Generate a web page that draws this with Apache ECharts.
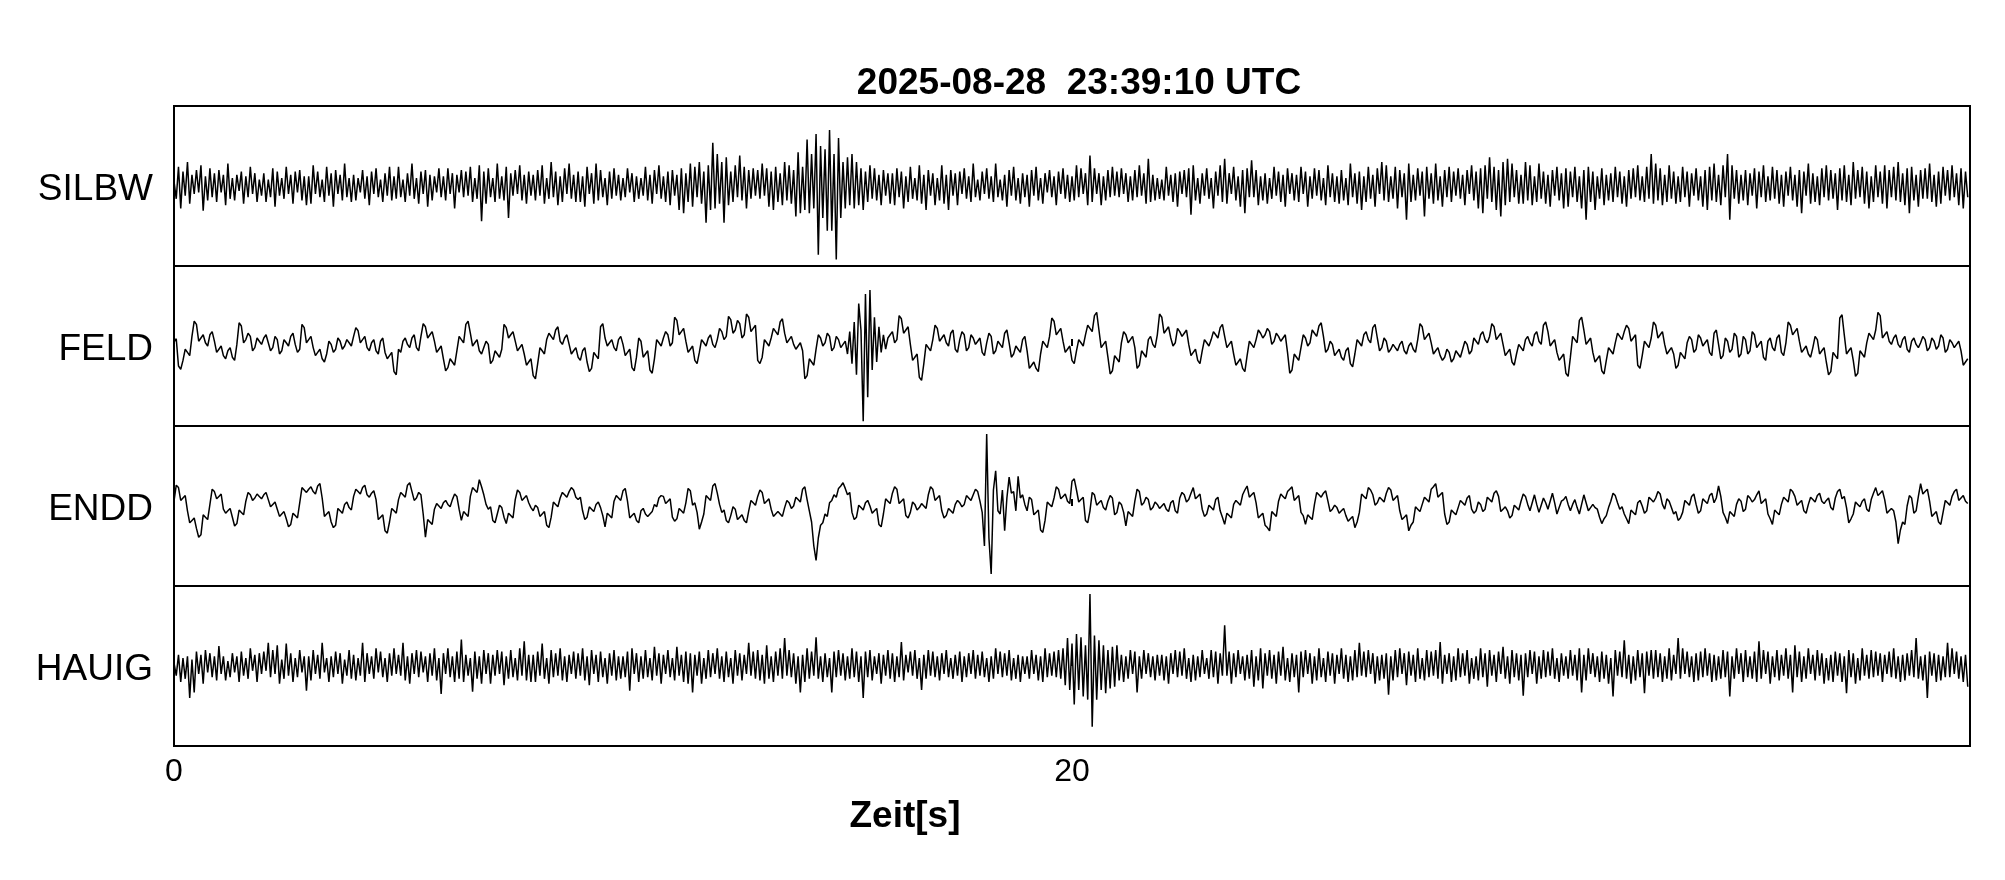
<!DOCTYPE html>
<html>
<head>
<meta charset="utf-8">
<script src="https://cdn.jsdelivr.net/npm/echarts@6/dist/echarts.min.js"></script>
<style>
html,body{margin:0;padding:0;background:#fff;}
#chart{width:2005px;height:880px;}
</style>
</head>
<body>
<div id="chart"></div>
<script>
// ---- data ----
const titleText = '2025-08-28  23:39:10 UTC';
const xAxisName = 'Zeit[s]';
const stations = ['SILBW', 'FELD', 'ENDD', 'HAUIG'];
const sampleInterval = 0.05; // seconds between samples
const timeMin = 0, timeMax = 40, timeTickStep = 20;

// amplitudes in % of half panel height, one row = 1 s
const silbw = [
6,-16,24,-28,18,-12,30,-22,14,-10,20,-8,26,-31,12,-18,22,-14,16,-20,
20,-8,14,-24,28,-16,10,-18,14,-6,18,-22,12,-14,24,-10,16,-20,8,-12,
16,-20,8,-14,22,-26,18,-12,10,-16,24,-10,14,-22,18,-8,20,-18,12,-24,
12,-22,26,-10,18,-14,8,-20,24,-12,16,-26,20,-10,14,-18,28,-14,10,-20,
14,-18,10,-8,20,-16,12,-24,18,-10,22,-14,8,-20,16,-12,24,-18,12,-16,
24,-14,8,-20,16,-12,28,-16,10,-22,18,-10,20,-26,14,-18,12,-8,22,-14,
12,-18,22,-10,16,-28,14,-8,20,-14,18,-12,24,-20,10,-16,26,-44,18,-22,
22,-14,10,-20,28,-16,12,-18,24,-40,16,-12,20,-10,26,-18,14,-22,18,-12,
14,-18,20,-12,26,-22,10,-16,30,-14,18,-24,12,-20,22,-10,28,-16,14,-20,
18,-20,12,-26,24,-10,16,-22,28,-18,20,-14,10,-24,18,-16,22,-12,14,-18,
10,-14,22,-8,16,-20,12,-16,10,-12,24,-18,14,-22,20,-10,26,-16,12,-20,
18,-24,20,-12,14,-30,22,-34,16,-20,28,-26,24,-14,30,-22,18,-46,26,-30,
54,-28,40,-22,30,-46,36,-24,18,-20,26,-14,38,-18,24,-28,20,-16,22,-12,
20,-16,28,-12,22,-26,18,-30,24,-20,16,-24,30,-18,26,-22,20,-38,42,-34,
24,-30,58,-34,40,-28,65,-86,50,-40,46,-56,70,-56,40,-92,60,-40,30,-28,
36,-24,40,-28,30,-24,22,-30,18,-20,26,-16,22,-18,14,-24,20,-12,16,-22,
16,-24,22,-14,18,-28,12,-20,24,-16,10,-18,26,-22,14,-30,20,-12,16,-24,
10,-18,26,-22,14,-30,20,-12,16,-24,18,-10,22,-16,12,-20,28,-14,8,-18,
18,-10,22,-16,12,-20,28,-14,8,-18,14,-26,20,-12,24,-18,10,-22,16,-14,
14,-26,20,-12,24,-18,10,-22,16,-8,20,-14,12,-24,18,-10,22,-16,14,-20,
12,-18,26,-14,22,-10,16,-24,38,-20,22,-10,16,-24,12,-18,20,-14,24,-12,
18,-14,22,-10,16,-20,12,-18,20,-14,26,-12,16,-22,34,-20,14,-18,10,-16,
8,-18,24,-12,14,-20,16,-26,18,-10,20,-14,22,-36,26,-18,10,-22,16,-12,
22,-16,10,-28,18,-12,26,-20,34,-22,16,-10,24,-18,12,-26,20,-34,22,-14,
32,-14,20,-24,12,-18,16,-22,10,-16,24,-12,18,-20,14,-26,22,-10,16,-18,
14,-20,24,-10,18,-26,12,-16,22,-12,20,-18,10,-24,26,-14,16,-20,12,-22,
20,-18,10,-24,28,-14,16,-22,18,-30,12,-20,24,-16,14,-26,22,-10,30,-18,
26,-20,12,-16,24,-28,20,-14,16,-42,28,-20,14,-18,22,-12,18,-38,24,-16,
16,-22,28,-18,12,-26,20,-14,24,-20,18,-12,22,-16,14,-24,20,-10,26,-18,
18,-28,22,-34,26,-16,36,-20,24,-30,20,-38,30,-24,34,-20,28,-14,20,-22,
14,-22,30,-18,26,-24,12,-20,28,-16,18,-22,14,-26,20,-12,24,-18,16,-28,
22,-26,18,-14,24,-20,12,-28,20,-42,24,-20,18,-30,12,-16,22,-24,14,-18,
16,-20,24,-14,18,-22,12,-26,20,-16,22,-14,26,-18,12,-20,24,-16,40,-22,
28,-18,22,-24,14,-20,26,-16,18,-22,12,-20,24,-14,18,-26,16,-12,22,-18,
12,-26,20,-30,24,-18,28,-20,14,-24,26,-14,40,-42,26,-16,20,-22,14,-18,
20,-24,16,-12,22,-28,18,-14,26,-20,12,-18,24,-16,20,-22,14,-26,18,-12,
24,-18,14,-26,20,-34,18,-12,28,-22,16,-20,12,-24,22,-14,26,-18,20,-16,
16,-30,22,-18,26,-20,14,-24,30,-16,20,-14,24,-22,18,-28,12,-20,26,-14,
18,-22,26,-28,20,-14,24,-18,30,-20,16,-24,22,-34,24,-18,14,-26,20,-16,
22,-16,28,-20,14,-26,18,-22,24,-12,20,-18,26,-14,16,-24,22,-28,18,-14
];

const feld = [
5,9,-25,-29,-18,-4,-8,-12,12,31,27,6,10,14,4,0,14,18,6,-8,
-4,0,-12,-16,-6,-2,-14,-18,2,29,25,4,8,16,12,-6,-2,10,6,2,
10,14,4,-6,-2,12,8,-10,-6,8,4,0,12,16,2,-8,-4,27,23,4,
8,12,-2,-12,-8,-4,-16,-20,-10,6,2,-8,-4,10,6,-4,0,8,4,0,
12,23,19,4,8,12,-2,-6,4,8,-6,-10,6,10,-8,-16,-12,-8,-32,-36,
-4,-8,6,10,2,-2,10,14,-2,-6,12,28,24,10,14,18,6,-8,-4,0,
-16,-31,-27,-16,-20,-24,-6,12,8,4,27,31,16,0,4,8,-6,-10,-2,6,
2,-22,-18,-6,-10,-14,-4,27,23,10,14,18,6,-6,-2,2,-10,-24,-20,-16,
-37,-41,-22,-2,-6,-10,8,16,12,8,20,24,6,2,10,14,2,-10,-6,-2,
-14,-18,-6,-2,-20,-32,-28,-8,-12,-16,24,28,10,0,4,8,-2,-6,8,12,
2,-12,-8,-4,-27,-31,-14,10,6,-14,-10,-6,-30,-34,-16,8,4,0,10,18,
14,0,4,36,32,14,18,22,6,-8,-4,0,-18,-22,-8,8,4,0,10,14,
2,-2,8,22,18,8,12,37,33,16,20,32,28,10,14,40,36,18,22,26,
-18,-22,-14,8,4,0,10,22,18,14,30,34,16,4,8,12,2,-4,0,4,
-6,-41,-37,-16,-20,-24,-4,14,10,0,4,16,12,-6,-2,12,8,-2,2,6,
-10,18,-22,30,-36,53,20,-94,65,-64,70,-30,36,-20,24,-8,14,-4,10,14,
18,4,8,38,34,16,20,24,2,-18,-14,-10,-39,-43,-22,2,-2,-6,8,26,
22,6,10,14,4,0,16,20,-4,-8,8,18,14,-6,-2,14,10,2,6,10,
-8,-12,4,16,12,-10,-6,6,2,-2,16,20,4,-14,-10,0,-4,-8,8,12,
-6,-28,-24,-20,-28,-32,-10,6,2,-2,12,35,31,14,18,22,6,-8,-4,0,
-18,-22,-6,8,4,0,14,26,22,18,38,42,20,-2,2,6,-14,-35,-31,-12,
-16,-20,4,18,14,4,8,12,-2,-28,-24,-6,-10,-14,8,12,2,-2,14,40,
36,16,20,24,10,0,4,22,18,12,16,20,2,-12,-8,-4,-18,-22,-6,8,
4,0,8,18,14,10,23,27,12,-2,2,6,-10,-24,-20,-16,-28,-32,-12,6,
2,-2,8,20,16,10,14,22,18,2,6,16,12,6,10,14,-8,-34,-30,-10,
-14,-18,-2,14,10,0,4,20,16,12,25,29,12,-8,-4,6,2,-12,-8,-4,
-14,-18,-6,-2,-22,-26,-10,8,4,0,14,18,8,4,23,27,10,-6,-2,10,
6,-8,-4,2,-2,-6,2,6,-6,-10,0,4,-4,-8,8,28,24,8,12,16,
4,-10,-6,-2,-12,-18,-14,-4,-8,-20,-16,-6,-10,-14,-4,6,2,-10,-6,10,
6,2,14,18,8,4,12,28,24,8,12,16,2,-12,-8,-4,-20,-24,-10,2,
-2,-6,8,12,4,0,14,18,6,2,26,30,18,0,4,8,-8,-18,-14,-10,
-34,-38,-14,12,8,4,32,36,20,2,6,10,-8,-20,-16,-12,-31,-35,-18,-2,
-6,-10,4,16,12,8,18,26,22,6,10,14,-24,-28,-12,6,2,-2,10,30,
26,10,14,18,2,-10,-6,-2,-10,-28,-24,-8,-12,-16,4,12,8,-8,-4,14,
10,0,4,8,-8,-12,16,20,2,-16,-12,10,6,-8,-4,16,12,-14,-10,12,
8,-10,-6,18,14,-2,2,6,-14,-18,6,10,-2,-6,10,14,-8,-12,4,30,
26,14,18,22,6,-8,-4,0,-10,-14,-2,12,8,-10,-6,-2,-20,-36,-32,-8,
-12,-16,35,39,14,-10,-6,-2,-18,-38,-34,-6,-10,-14,4,16,12,8,20,42,
38,10,14,18,6,2,10,14,2,-2,8,12,-4,-8,6,10,2,-2,4,12,
8,-6,-2,10,6,-4,0,14,10,-8,-4,8,4,-2,2,6,-6,-24,-20,-16
];

const endd = [
6,26,23,7,10,13,-6,-21,-18,-15,-28,-39,-36,-11,-14,-17,2,21,18,9,
12,15,-4,-9,-6,-3,-14,-25,-22,-5,-8,-11,6,17,14,7,10,15,12,9,
14,17,8,-1,2,5,-4,-13,-10,-7,-16,-26,-23,-9,-12,-15,4,23,20,17,
21,24,18,15,25,28,10,-13,-10,-7,-20,-27,-24,-3,-6,-9,2,5,-2,-5,
12,21,18,15,23,26,14,11,16,19,8,-17,-14,-11,-31,-34,-20,-3,-6,-9,
8,17,14,11,26,29,18,7,10,17,14,-10,-39,-17,-20,-23,-4,3,0,-3,
4,7,2,-1,8,15,12,-4,-18,-7,-10,-13,12,23,20,17,33,24,14,2,
-4,-1,-18,-21,-10,1,-2,-14,-22,-9,-12,-15,8,20,17,7,10,13,4,-2,
-6,1,-2,-13,-10,-7,-24,-27,-14,5,2,-1,10,17,14,11,18,23,20,11,
8,11,-6,-17,-14,-1,-4,-7,2,5,-2,-12,-26,-9,-12,-15,6,13,10,7,
19,22,6,-15,-12,-9,-18,-21,-6,-3,-10,-13,-10,-7,2,-1,10,13,12,3,
6,9,-14,-19,-16,-3,-6,-9,4,22,19,1,4,-8,-29,-20,-10,13,10,7,
25,28,16,2,-8,-5,-18,-21,-12,-1,-4,-17,-14,-11,-18,-21,-6,7,4,1,
12,20,17,3,6,9,-4,-13,-10,-7,-10,-13,-2,7,4,-3,0,11,8,5,
21,24,8,-6,-20,-50,-68,-40,-24,-21,-10,-13,4,7,14,11,22,25,29,22,
14,17,-8,-17,-14,1,-2,-5,4,7,0,-9,-6,-3,-23,-26,-10,9,6,3,
16,24,21,3,6,9,-12,-15,-8,5,2,-5,-2,3,0,-3,14,24,21,7,
10,13,-6,-15,-12,-3,-6,-9,2,7,4,-1,2,13,10,7,14,21,18,6,
-8,-50,90,-40,-85,20,44,-6,-10,20,-31,10,36,16,18,-6,37,10,14,2,
-6,11,8,-11,-8,-5,-30,-33,-18,5,2,-1,10,24,21,9,12,15,6,3,
31,34,20,5,8,11,-18,-21,-6,17,14,1,4,7,-2,-5,6,13,10,-11,
-8,5,2,-8,-25,-7,-10,-13,6,21,18,1,4,11,8,-5,-2,5,2,-3,
0,3,-4,-7,4,7,-6,-9,10,17,14,5,8,16,23,9,12,15,-4,-13,
-10,1,-2,-5,8,11,-6,-14,-23,-9,-12,-15,2,7,4,1,14,20,25,11,
14,17,4,-15,-12,-9,-24,-27,-31,-7,-10,-13,6,15,12,9,18,21,24,7,
10,13,-8,-12,-23,-11,-14,-17,2,17,14,11,16,19,6,-7,-4,1,-2,-9,
-6,-3,-12,-19,-16,-13,-27,-20,-8,15,12,9,23,20,14,1,4,11,8,5,
16,23,20,7,10,13,-6,-17,-14,-11,-31,-24,-20,-1,-4,-7,2,11,8,5,
21,24,28,11,14,17,-10,-23,-20,-5,-8,-11,-2,7,4,1,10,13,-4,-9,
-6,5,2,-7,-4,11,8,5,16,19,12,-7,-4,-1,-6,-15,-12,1,-2,-5,
6,15,12,2,-6,4,14,2,-8,1,10,4,-4,6,16,4,-10,-2,6,8,
12,2,-6,2,8,-2,-10,2,14,4,-6,-2,2,-2,-4,-14,-22,-16,-12,-2,
6,16,13,4,-4,-1,-10,-16,-22,-5,-8,-11,4,7,0,-9,-6,11,8,5,
10,18,15,2,-4,9,6,-2,-10,-7,-18,-15,-8,7,4,1,12,15,2,-9,
-6,9,6,3,13,16,4,10,25,12,-8,-14,-22,-7,-10,-13,2,9,6,-7,
-4,13,10,5,8,14,19,3,6,9,-10,-16,-23,-5,-8,-11,2,11,8,5,
21,18,12,1,4,7,-6,-9,2,11,8,5,13,16,6,3,7,10,-2,-5,
10,18,21,9,12,-2,-21,-16,-10,5,2,-1,6,9,-4,-7,8,16,23,13,
16,19,8,-9,-6,-3,-6,-20,-47,-30,-20,-23,0,13,10,-9,-6,12,28,15,
18,21,6,-13,-10,-7,-20,-23,-8,7,4,1,12,18,21,7,10,13,6,3
];

const hauig = [
4,-12,14,-20,10,-16,12,-40,8,-33,18,-10,14,-22,20,-8,16,-14,12,-18,
25,-10,12,-18,6,-14,16,-8,12,-20,18,-12,10,-16,22,-6,14,-20,16,-10,
18,-6,29,-14,20,-10,26,-22,8,-16,28,-12,16,-20,10,-14,20,-8,12,-31,
12,-18,20,-10,14,-16,29,-8,10,-20,12,-14,18,-10,16,-22,8,-12,20,-16,
14,-18,10,-12,29,-20,16,-10,12,-16,22,-8,18,-14,10,-20,16,-12,22,-10,
14,-12,29,-18,12,-22,16,-10,20,-14,18,-8,12,-20,16,-12,22,-18,10,-35,
16,-10,22,-14,12,-20,18,-16,33,-20,14,-12,10,-32,18,-16,12,-22,20,-10,
16,-22,14,-12,20,-10,18,-24,12,-16,20,-14,10,-18,22,-12,31,-18,14,-20,
14,-20,18,-12,28,-16,10,-22,20,-14,16,-12,22,-18,12,-20,14,-10,18,-16,
16,-12,22,-18,12,-24,20,-10,14,-20,18,-14,10,-22,16,-12,20,-18,12,-16,
12,-14,18,-31,22,-10,16,-20,12,-16,20,-14,10,-18,24,-12,16,-22,14,-10,
20,-14,10,-18,24,-12,14,-20,18,-22,16,-33,14,-12,18,-22,10,-16,20,-14,
16,-10,22,-16,12,-20,18,-14,10,-22,20,-12,16,-18,14,-10,29,-12,18,-16,
20,-18,14,-22,26,-16,12,-20,18,-12,22,-16,35,-12,20,-14,16,-22,12,-33,
14,-20,22,-16,18,-12,36,-16,12,-20,16,-14,10,-33,18,-14,20,-12,16,-18,
12,-16,22,-14,18,-20,12,-40,18,-14,20,-18,12,-10,16,-22,14,-12,20,-16,
16,-20,12,-14,30,-18,14,-8,18,-12,20,-16,10,-30,14,-16,20,-12,18,-14,
12,-18,16,-10,20,-14,10,-16,14,-12,18,-20,12,-14,16,-10,20,-16,14,-12,
18,-14,10,-20,12,-16,22,-10,18,-14,16,-12,20,-18,10,-16,14,-20,12,-10,
12,-16,20,-10,14,-18,12,-20,22,-14,16,-12,18,-14,20,-16,22,-24,35,-30,
28,-48,40,-30,36,-38,26,-42,90,-76,38,-42,32,-30,26,-34,20,-28,24,-26,
26,-18,14,-20,12,-16,20,-10,18,-33,12,-16,20,-10,16,-14,12,-18,14,-12,
14,-18,12,-22,16,-10,20,-14,18,-12,22,-16,10,-20,14,-18,12,-14,20,-10,
10,-16,20,-14,18,-22,16,-12,51,-12,18,-22,16,-14,20,-10,12,-18,14,-16,
20,-26,12,-18,22,-28,16,-12,20,-16,14,-22,18,-12,24,-18,10,-20,16,-14,
14,-33,18,-14,20,-10,16,-22,12,-18,22,-14,10,-20,18,-12,16,-22,14,-10,
22,-16,14,-20,12,-18,20,-14,29,-12,18,-14,20,-10,16,-22,12,-18,14,-16,
16,-36,12,-18,20,-14,22,-10,16,-24,18,-12,14,-20,22,-16,10,-18,20,-14,
18,-12,20,-16,30,-22,14,-10,16,-20,12,-18,22,-14,16,-12,20,-22,10,-16,
12,-18,22,-14,16,-26,20,-12,14,-20,18,-10,24,-16,12,-22,20,-14,16,-18,
14,-37,16,-14,20,-10,18,-22,12,-16,20,-14,18,-12,22,-16,10,-20,16,-12,
12,-16,20,-12,14,-18,22,-33,14,-18,22,-10,16,-14,12,-20,18,-16,14,-22,
10,-38,20,-12,18,-14,32,-16,14,-22,12,-18,20,-14,16,-34,18,-12,20,-16,
20,-14,16,-20,12,-16,22,-18,14,-10,35,-16,22,-10,18,-14,12,-20,16,-18,
18,-14,22,-12,16,-20,14,-18,12,-16,20,-14,18,-38,12,-16,22,-10,16,-20,
20,-14,12,-16,18,-20,31,-16,20,-10,18,-22,12,-14,20,-18,14,-12,22,-16,
14,-33,26,-14,18,-20,12,-16,22,-10,14,-18,20,-12,16,-22,10,-18,14,-20,
18,-12,16,-20,12,-34,20,-14,16,-22,10,-18,22,-12,14,-16,20,-14,18,-12,
16,-20,14,-10,18,-14,22,-16,12,-20,14,-18,16,-12,20,-14,35,-16,12,-18,
14,-40,18,-12,16,-20,14,-18,12,-14,29,-14,22,-10,18,-16,12,-20,14,-26
];

const traces = [silbw, feld, endd, hauig];

// ---- chart ----
const FONT = '"Liberation Sans", Arial, Helvetica, sans-serif';
const gridLeft = 174, gridRight = 35, gridTop0 = 106, panelH = 160;

const grids = [], xAxes = [], yAxes = [], series = [], labels = [];
traces.forEach((vals, i) => {
  const isLast = i === traces.length - 1;
  grids.push({
    left: gridLeft, right: gridRight, top: gridTop0 + i * panelH, height: panelH,
    show: true, borderColor: '#000', borderWidth: 2, backgroundColor: 'transparent'
  });
  xAxes.push({
    gridIndex: i, type: 'value', min: timeMin, max: timeMax, interval: timeTickStep,
    axisLine: { show: false },
    splitLine: { show: false },
    axisTick: { show: true, inside: true, length: 7, lineStyle: { color: '#000', width: 2 } },
    axisLabel: {
      show: isLast, showMaxLabel: false, margin: 10,
      fontFamily: FONT, fontSize: 32, color: '#000'
    }
  });
  yAxes.push({
    gridIndex: i, type: 'value', min: -100, max: 100,
    axisLine: { show: false }, axisTick: { show: false }, axisLabel: { show: false },
    splitLine: { show: false }
  });
  series.push({
    type: 'line', xAxisIndex: i, yAxisIndex: i,
    data: vals.map((v, k) => [k * sampleInterval, v]),
    showSymbol: false, symbol: 'none', sampling: 'none', animation: false,
    lineStyle: { color: '#000', width: 1.5 }
  });
  labels.push({
    type: 'text', x: gridLeft - 21, y: gridTop0 + i * panelH + panelH / 2 + 4,
    style: { text: stations[i], font: '37px ' + FONT, fill: '#000', textAlign: 'right', textVerticalAlign: 'middle' }
  });
});

const chart = echarts.init(document.getElementById('chart'), null, { renderer: 'canvas' });
chart.setOption({
  backgroundColor: '#fff',
  animation: false,
  grid: grids,
  xAxis: xAxes,
  yAxis: yAxes,
  series: series,
  graphic: labels.concat([
    { type: 'text', x: 1079, y: 84,
      style: { text: titleText, font: 'bold 37px ' + FONT, fill: '#000', textAlign: 'center', textVerticalAlign: 'middle' } },
    { type: 'text', x: 905, y: 817,
      style: { text: xAxisName, font: 'bold 37px ' + FONT, fill: '#000', textAlign: 'center', textVerticalAlign: 'middle' } }
  ])
});
</script>
</body>
</html>
